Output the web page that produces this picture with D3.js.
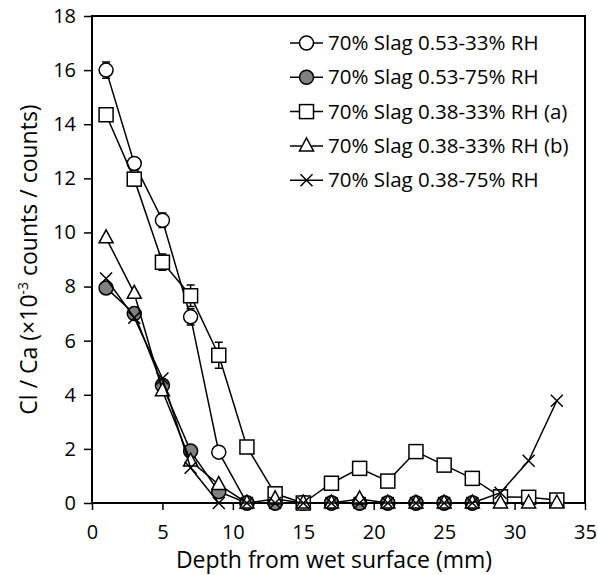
<!DOCTYPE html>
<html>
<head>
<meta charset="utf-8">
<script src="https://cdn.jsdelivr.net/npm/d3@7"></script>
<style>
  body { margin: 0; background: #fff; }
  text { font-family: "Open Sans", sans-serif; fill: #000; }
</style>
</head>
<body>
<div id="main"></div>
<script>
// depth (mm) of each slice
const depth = [1, 3, 5, 7, 9, 11, 13, 15, 17, 19, 21, 23, 25, 27, 29, 31, 33];

const slag053_33 = [16.0, 12.55, 10.45, 6.88, 1.88, 0, 0, 0, 0, 0, 0, 0, 0, 0];
const slag053_33Err = [0.3, 0.2, 0.27, 0.3, 0, 0, 0, 0, 0, 0, 0, 0, 0, 0];
const slag053_75 = [7.95, 7.0, 4.35, 1.92, 0.42, 0, 0, 0, 0, 0, 0, 0, 0, 0];
const slag038_33a = [14.35, 11.97, 8.9, 7.66, 5.46, 2.07, 0.34, 0, 0.73, 1.28, 0.81, 1.9, 1.4, 0.91, 0.23, 0.21, 0.11];
const slag038_33aErr = [0, 0.25, 0.3, 0.4, 0.48, 0.23, 0, 0, 0, 0, 0, 0.22, 0, 0, 0, 0, 0];
const slag038_33b = [9.8, 7.75, 4.15, 1.55, 0.68, 0, 0.15, 0, 0, 0.15, 0, 0, 0, 0, 0, 0, 0];
const slag038_75 = [8.3, 6.85, 4.6, 1.3, 0, 0, 0, 0, 0, 0, 0, 0, 0, 0, 0.38, 1.56, 3.78];

const seriesNames = [
    "70% Slag 0.53-33% RH",
    "70% Slag 0.53-75% RH",
    "70% Slag 0.38-33% RH (a)",
    "70% Slag 0.38-33% RH (b)",
    "70% Slag 0.38-75% RH"
];
const xTicks = [0, 5, 10, 15, 20, 25, 30, 35];
const yTicks = [0, 2, 4, 6, 8, 10, 12, 14, 16, 18];

const series = [
    { name: seriesNames[0], values: slag053_33, err: slag053_33Err, shape: "circle", fill: "#fff" },
    { name: seriesNames[1], values: slag053_75, err: null, shape: "circle", fill: "#808080" },
    { name: seriesNames[2], values: slag038_33a, err: slag038_33aErr, shape: "square", fill: "#fff" },
    { name: seriesNames[3], values: slag038_33b, err: null, shape: "triangle", fill: "#fff" },
    { name: seriesNames[4], values: slag038_75, err: null, shape: "cross", fill: "none" }
];

const width = 598, height = 575;
const margin = { top: 16, right: 13, bottom: 72, left: 92 };
const innerW = width - margin.left - margin.right,
    innerH = height - margin.top - margin.bottom;

const svg = d3.select('#main')
    .append('svg')
    .attr('width', width)
    .attr('height', height);

const g = svg.append('g')
    .attr('transform', `translate(${margin.left} ${margin.top})`);

const x = d3.scaleLinear().domain([0, 35]).range([0, innerW]);
const y = d3.scaleLinear().domain([0, 18]).range([innerH, 0]);

// axes
const xAxis = g.append('g')
    .attr('transform', `translate(0 ${innerH})`)
    .call(d3.axisBottom(x).tickValues(xTicks).tickSize(7).tickPadding(15));
const yAxis = g.append('g')
    .call(d3.axisLeft(y).tickValues(yTicks).tickSize(8).tickPadding(8));

[xAxis, yAxis].forEach(a => {
    a.select('.domain').remove();
    a.selectAll('line').attr('stroke', '#000').attr('stroke-width', 1.5);
    a.selectAll('text').style('font-size', '20px').attr('fill', '#000');
});

// frame
g.append('rect')
    .attr('width', innerW)
    .attr('height', innerH)
    .attr('fill', 'none')
    .attr('stroke', '#000')
    .attr('stroke-width', 2);

// axis titles
svg.append('text')
    .attr('x', 334)
    .attr('y', 568)
    .attr('text-anchor', 'middle')
    .style('font-size', '23px')
    .text('Depth from wet surface (mm)');

const yTitle = svg.append('text')
    .attr('transform', `translate(37 ${margin.top + innerH / 2}) rotate(-90)`)
    .attr('text-anchor', 'middle')
    .style('font-size', '23px');
yTitle.append('tspan').text('Cl / Ca (×10');
yTitle.append('tspan').attr('dy', -9).style('font-size', '14px').text('-3');
yTitle.append('tspan').attr('dy', 9).text(' counts / counts)');

function drawMarker(sel, shape, fill) {
    if (shape === 'circle') {
        sel.append('circle').attr('r', 7).attr('fill', fill)
            .attr('stroke', '#000').attr('stroke-width', 1.5);
    } else if (shape === 'square') {
        sel.append('rect').attr('x', -7).attr('y', -7).attr('width', 14).attr('height', 14)
            .attr('fill', fill).attr('stroke', '#000').attr('stroke-width', 1.5);
    } else if (shape === 'triangle') {
        sel.append('path').attr('d', 'M0,-8L7,5L-7,5Z')
            .attr('fill', fill).attr('stroke', '#000').attr('stroke-width', 1.5);
    } else {
        sel.append('path').attr('d', 'M-6,-6L6,6M-6,6L6,-6')
            .attr('fill', 'none').attr('stroke', '#000').attr('stroke-width', 1.5);
    }
}

const line = d3.line()
    .x((d, i) => x(depth[i]))
    .y(d => y(d));

series.forEach(s => {
    const sg = g.append('g');
    sg.append('path')
        .attr('d', line(s.values))
        .attr('fill', 'none')
        .attr('stroke', '#000')
        .attr('stroke-width', 1.5);

    if (s.err) {
        s.values.forEach((v, i) => {
            const e = s.err[i];
            if (!e) return;
            const cx = x(depth[i]);
            sg.append('path')
                .attr('d', `M${cx},${y(v + e)}V${y(v - e)}M${cx - 4},${y(v + e)}H${cx + 4}M${cx - 4},${y(v - e)}H${cx + 4}`)
                .attr('stroke', '#000')
                .attr('stroke-width', 1.5)
                .attr('fill', 'none');
        });
    }

    s.values.forEach((v, i) => {
        const m = sg.append('g').attr('transform', `translate(${x(depth[i])} ${y(v)})`);
        drawMarker(m, s.shape, s.fill);
    });
});

// legend
const legend = svg.append('g').attr('transform', 'translate(290 43)');
series.forEach((s, i) => {
    const row = legend.append('g').attr('transform', `translate(0 ${i * 34.3})`);
    row.append('line').attr('x1', 0).attr('x2', 33).attr('y1', 0).attr('y2', 0)
        .attr('stroke', '#000').attr('stroke-width', 1.5);
    const m = row.append('g').attr('transform', 'translate(16.5 0)');
    drawMarker(m, s.shape, s.fill);
    row.append('text')
        .attr('x', 38)
        .attr('y', 0)
        .attr('dy', '0.35em')
        .style('font-size', '20.5px')
        .text(s.name);
});
</script>
</body>
</html>
